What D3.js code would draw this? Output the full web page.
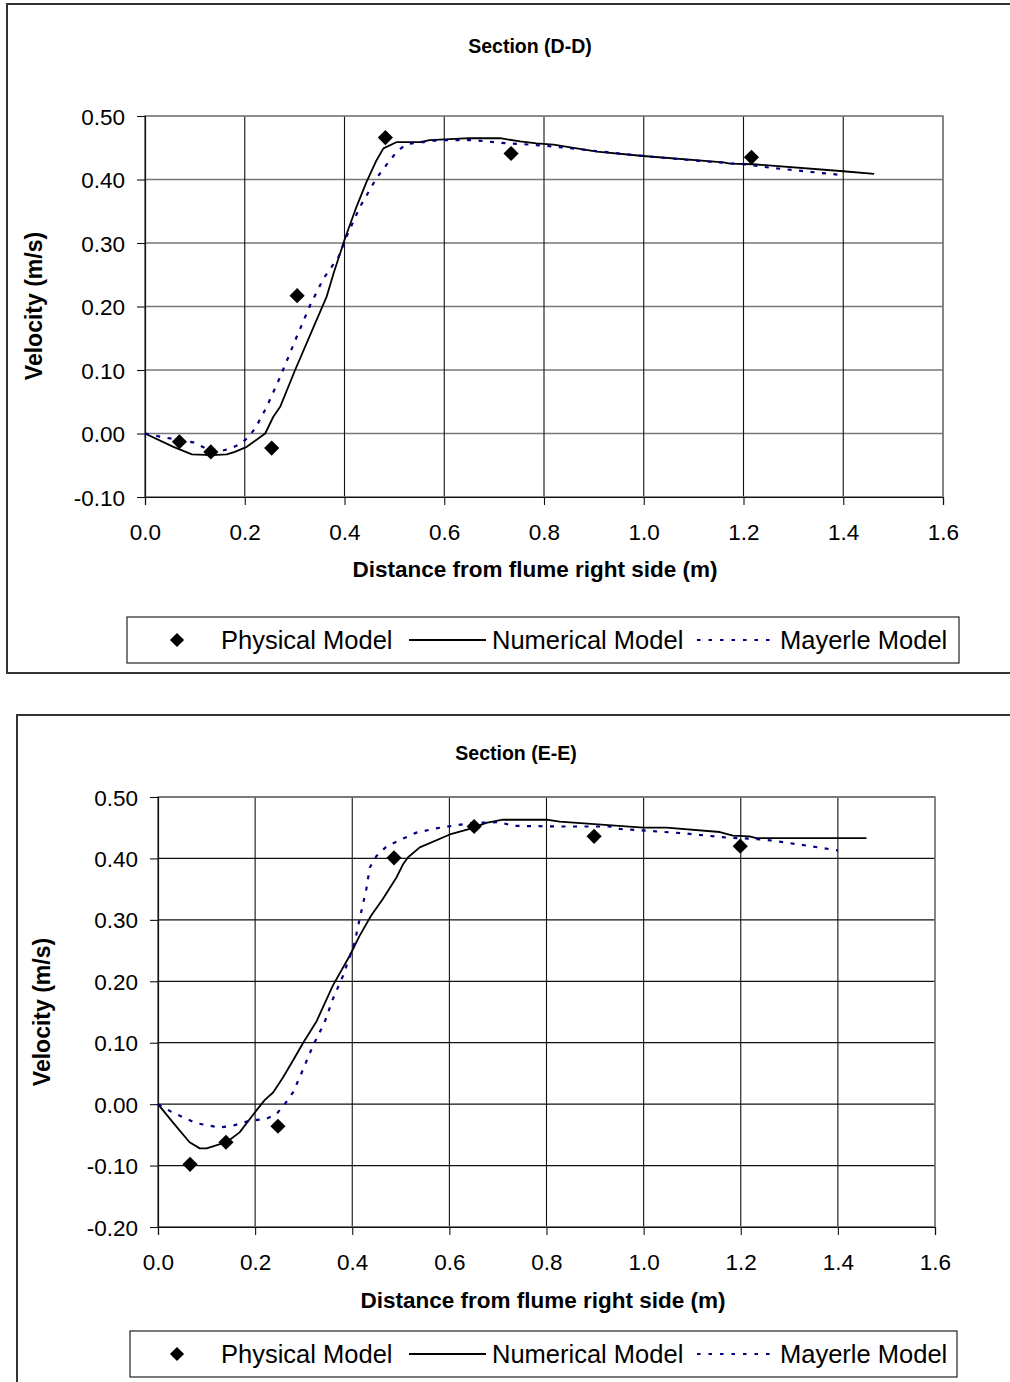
<!DOCTYPE html>
<html><head><meta charset="utf-8">
<script src="https://cdn.jsdelivr.net/npm/d3@7"></script>
<style>
body{margin:0;background:#fff;}
svg{display:block;font-family:"Liberation Sans",Arial,sans-serif;}
</style></head><body>
<svg id="c" width="1010" height="1382"></svg>
<script>
// ---- data ----
const xTicks = [0, 0.2, 0.4, 0.6, 0.8, 1.0, 1.2, 1.4, 1.6];
const yTicksDD = [-0.1, 0, 0.1, 0.2, 0.3, 0.4, 0.5];
const yTicksEE = [-0.2, -0.1, 0, 0.1, 0.2, 0.3, 0.4, 0.5];
const seriesNames = ["Physical Model", "Numerical Model", "Mayerle Model"];
const titleDD = "Section (D-D)";
const titleEE = "Section (E-E)";
const xLabel = "Distance from flume right side (m)";
const yLabel = "Velocity (m/s)";

const ddPhysical = [[0.069,-0.013],[0.132,-0.029],[0.254,-0.023],[0.305,0.217],[0.482,0.466],[0.734,0.441],[1.216,0.435]];
const ddNumerical = [[0,0],[0.057,-0.021],[0.094,-0.033],[0.134,-0.034],[0.164,-0.033],[0.180,-0.029],[0.204,-0.021],[0.241,0.0],[0.257,0.026],[0.271,0.042],[0.301,0.100],[0.331,0.155],[0.364,0.215],[0.378,0.252],[0.401,0.307],[0.424,0.357],[0.444,0.396],[0.464,0.430],[0.478,0.449],[0.505,0.459],[0.551,0.459],[0.571,0.462],[0.651,0.465],[0.712,0.465],[0.752,0.460],[0.785,0.457],[0.819,0.455],[0.906,0.444],[0.999,0.437],[1.160,0.427],[1.173,0.425],[1.220,0.424],[1.400,0.413],[1.462,0.409]];
const ddMayerle = [[0,0],[0.030,-0.005],[0.097,-0.014],[0.124,-0.024],[0.150,-0.028],[0.170,-0.024],[0.190,-0.017],[0.204,-0.008],[0.221,0.008],[0.244,0.042],[0.271,0.089],[0.304,0.152],[0.331,0.202],[0.358,0.244],[0.388,0.278],[0.404,0.310],[0.431,0.357],[0.451,0.384],[0.464,0.402],[0.484,0.423],[0.505,0.444],[0.525,0.456],[0.558,0.459],[0.591,0.462],[0.658,0.462],[0.725,0.457],[0.772,0.455],[0.819,0.452],[0.926,0.443],[0.999,0.437],[1.100,0.430],[1.200,0.424],[1.260,0.418],[1.347,0.411],[1.397,0.407]];

const eePhysical = [[0.066,-0.098],[0.140,-0.062],[0.247,-0.036],[0.486,0.401],[0.651,0.452],[0.898,0.436],[1.199,0.420]];
const eeNumerical = [[0,0],[0.031,-0.030],[0.065,-0.062],[0.086,-0.072],[0.100,-0.072],[0.141,-0.062],[0.168,-0.046],[0.199,-0.014],[0.220,0.007],[0.237,0.019],[0.257,0.043],[0.278,0.071],[0.299,0.100],[0.326,0.134],[0.360,0.193],[0.395,0.242],[0.415,0.274],[0.439,0.307],[0.463,0.334],[0.491,0.369],[0.505,0.391],[0.515,0.402],[0.539,0.418],[0.601,0.439],[0.642,0.448],[0.676,0.458],[0.710,0.463],[0.800,0.463],[0.827,0.460],[0.999,0.450],[1.047,0.450],[1.157,0.443],[1.184,0.437],[1.218,0.436],[1.232,0.433],[1.459,0.433]];
const eeMayerle = [[0,0],[0.031,-0.014],[0.079,-0.031],[0.127,-0.038],[0.154,-0.035],[0.189,-0.027],[0.223,-0.024],[0.244,-0.016],[0.261,0.000],[0.278,0.019],[0.299,0.057],[0.319,0.095],[0.343,0.133],[0.360,0.171],[0.381,0.209],[0.405,0.263],[0.415,0.301],[0.429,0.350],[0.436,0.385],[0.450,0.404],[0.470,0.419],[0.498,0.430],[0.532,0.442],[0.573,0.449],[0.614,0.454],[0.649,0.458],[0.704,0.459],[0.731,0.453],[0.827,0.452],[0.930,0.452],[0.951,0.448],[1.081,0.441],[1.170,0.434],[1.225,0.432],[1.266,0.429],[1.335,0.421],[1.400,0.413]];

// ---- drawing ----
const svg = d3.select("#c");
const NAVY = "#000080";

function drawChart(o) {
  const g = svg.append("g");
  // outer frame
  g.append("rect").attr("x", o.frame[0]).attr("y", o.frame[1])
    .attr("width", 1200).attr("height", o.frame[2])
    .attr("fill", "#fff").attr("stroke", "#333").attr("stroke-width", 2);

  const x = d3.scaleLinear().domain([0, 1.6]).range([o.plot.l, o.plot.r]);
  const y = d3.scaleLinear().domain([o.yTicks[0], o.yTicks[o.yTicks.length - 1]]).range([o.plot.b, o.plot.t]);

  // gridlines
  g.append("g").selectAll("line").data(o.yTicks).join("line")
    .attr("x1", o.plot.l).attr("x2", o.plot.r)
    .attr("y1", d => y(d)).attr("y2", d => y(d))
    .attr("stroke", o.hGridColor).attr("stroke-width", 1.3);
  g.append("g").selectAll("line").data(xTicks).join("line")
    .attr("x1", d => x(d)).attr("x2", d => x(d))
    .attr("y1", o.plot.t).attr("y2", o.plot.b)
    .attr("stroke", "#111").attr("stroke-width", 1.1);
  // plot border (top/right gray)
  g.append("rect").attr("x", o.plot.l).attr("y", o.plot.t)
    .attr("width", o.plot.r - o.plot.l).attr("height", o.plot.b - o.plot.t)
    .attr("fill", "none").attr("stroke", "#888").attr("stroke-width", 1.5);

  // axes
  const f2 = d3.format(".2f");
  const fmtY = d => f2(d).replace("\u2212", "-");
  const yAxis = g.append("g").attr("transform", `translate(${o.plot.l},0)`)
    .call(d3.axisLeft(y).tickValues(o.yTicks).tickSize(8).tickPadding(12).tickFormat(fmtY));
  const xAxis = g.append("g").attr("transform", `translate(0,${o.plot.b})`)
    .call(d3.axisBottom(x).tickValues(xTicks).tickSize(8).tickPadding(19).tickFormat(d3.format(".1f")));
  [yAxis, xAxis].forEach(a => {
    a.select(".domain").attr("stroke", "#111").attr("stroke-width", 1.2);
    a.selectAll(".tick line").attr("stroke", "#111").attr("stroke-width", 1.1);
    a.selectAll("text").attr("font-family", '"Liberation Sans",Arial,sans-serif')
      .attr("font-size", 22.5).attr("fill", "#000");
  });
  yAxis.selectAll("text").attr("dy", "0.36em");

  // series
  const line = d3.line().x(d => x(d[0])).y(d => y(d[1]));
  g.append("path").datum(o.num).attr("d", line).attr("fill", "none")
    .attr("stroke", "#000").attr("stroke-width", 1.8).attr("stroke-linejoin", "round");
  g.append("path").datum(o.may).attr("d", line).attr("fill", "none")
    .attr("stroke", NAVY).attr("stroke-width", 2.2).attr("stroke-dasharray", "4,7.5");
  const diamond = d3.symbol(d3.symbolSquare, 115);
  g.append("g").selectAll("path").data(o.phys).join("path")
    .attr("d", diamond)
    .attr("transform", d => `translate(${x(d[0])},${y(d[1])}) rotate(45)`)
    .attr("fill", "#000");

  // titles
  g.append("text").attr("x", o.titlePos[0]).attr("y", o.titlePos[1])
    .attr("text-anchor", "middle").attr("font-weight", "bold").attr("font-size", 19.5)
    .text(o.title);
  g.append("text").attr("x", o.xTitlePos[0]).attr("y", o.xTitlePos[1])
    .attr("text-anchor", "middle").attr("font-weight", "bold").attr("font-size", 22.5)
    .text(xLabel);
  g.append("text").attr("transform", `translate(${o.yTitlePos[0]},${o.yTitlePos[1]}) rotate(-90)`)
    .attr("text-anchor", "middle").attr("font-weight", "bold").attr("font-size", 23)
    .text(yLabel);

  // legend
  const L = o.legend;
  const lg = g.append("g");
  lg.append("rect").attr("x", L[0]).attr("y", L[1]).attr("width", L[2]).attr("height", L[3])
    .attr("fill", "#fff").attr("stroke", "#333").attr("stroke-width", 1.3);
  const cy = L[1] + L[3] / 2;
  const base = cy + 9;
  lg.append("path").attr("d", d3.symbol(d3.symbolSquare, 100))
    .attr("transform", `translate(177,${cy}) rotate(45)`).attr("fill", "#000");
  lg.append("text").attr("x", 221).attr("y", base).attr("font-size", 25.5).text(seriesNames[0]);
  lg.append("line").attr("x1", 409).attr("x2", 486).attr("y1", cy).attr("y2", cy)
    .attr("stroke", "#000").attr("stroke-width", 1.8);
  lg.append("text").attr("x", 492).attr("y", base).attr("font-size", 25.5).text(seriesNames[1]);
  lg.append("line").attr("x1", 697).attr("x2", 776).attr("y1", cy).attr("y2", cy)
    .attr("stroke", NAVY).attr("stroke-width", 1.8).attr("stroke-dasharray", "3.5,8");
  lg.append("text").attr("x", 780).attr("y", base).attr("font-size", 25.5).text(seriesNames[2]);
}

drawChart({
  frame: [7, 4, 669],
  plot: {l: 145, r: 943, t: 116, b: 497},
  yTicks: yTicksDD, hGridColor: "#777",
  phys: ddPhysical, num: ddNumerical, may: ddMayerle,
  title: titleDD, titlePos: [530, 53],
  xTitlePos: [535, 577], yTitlePos: [42, 306],
  legend: [127, 617, 832, 46]
});
drawChart({
  frame: [17, 715, 700],
  plot: {l: 158, r: 935, t: 797, b: 1227},
  yTicks: yTicksEE, hGridColor: "#111",
  phys: eePhysical, num: eeNumerical, may: eeMayerle,
  title: titleEE, titlePos: [516, 760],
  xTitlePos: [543, 1308], yTitlePos: [50, 1012],
  legend: [130, 1331, 827, 46]
});
</script>
</body></html>
